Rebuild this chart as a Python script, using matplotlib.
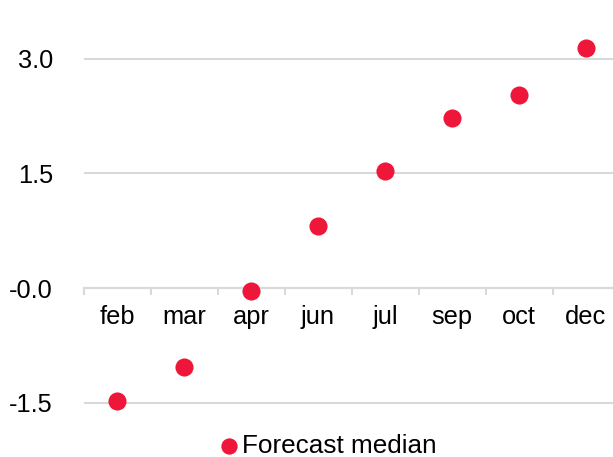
import numpy as np
import matplotlib
matplotlib.use("Agg")
import matplotlib.pyplot as plt

months = ["feb", "mar", "apr", "jun", "jul", "sep", "oct", "dec"]
forecast_median = [-1.48, -1.03, -0.04, 0.81, 1.53, 2.23, 2.53, 3.14]
yticks = [-1.5, 0.0, 1.5, 3.0]
ytick_labels = ["-1.5", "-0.0", "1.5", "3.0"]

red = "#EE1639"
grey = "#D9D9D9"

plt.rcParams["font.family"] = ["Liberation Sans", "DejaVu Sans"]

fig = plt.figure(figsize=(6.13, 4.57), dpi=100)
W, H = 613, 457
left, right = 83.5, 619.5
top, bottom = 28, 422
ax = fig.add_axes([left / W, (H - bottom) / H, (right - left) / W, (bottom - top) / H])

x = np.arange(len(months))
ax.scatter(x, forecast_median, s=170, color=red, zorder=3, label="Forecast median",
           linewidths=0)

ax.set_xlim(-0.5, len(months) - 0.5)
ax.set_ylim(-1.75, 3.4)

ax.set_yticks(yticks)
ax.set_yticklabels(ytick_labels)
ax.yaxis.grid(True, color=grey, linewidth=1.5)
ax.set_axisbelow(True)

for side in ["top", "right", "left"]:
    ax.spines[side].set_visible(False)
ax.spines["bottom"].set_position(("data", 0))
ax.spines["bottom"].set_color(grey)
ax.spines["bottom"].set_linewidth(1.5)

ax.set_xticks(x)
ax.set_xticklabels(months)
ax.set_xticks(np.arange(len(months) + 1) - 0.5, minor=True)
ax.tick_params(axis="x", which="major", length=0, pad=12, labelsize=18.3, colors="black")
ax.tick_params(axis="x", which="minor", length=5, width=1.5, color=grey)
ax.tick_params(axis="y", length=0, pad=22, labelsize=18.3)

fig.legend(loc="center", bbox_to_anchor=(328 / W, (H - 446) / H), frameon=False,
           fontsize=18.8, handlelength=0.7, handletextpad=0.15, markerscale=0.9,
           borderaxespad=0)

fig.savefig("out.png", dpi=100)
